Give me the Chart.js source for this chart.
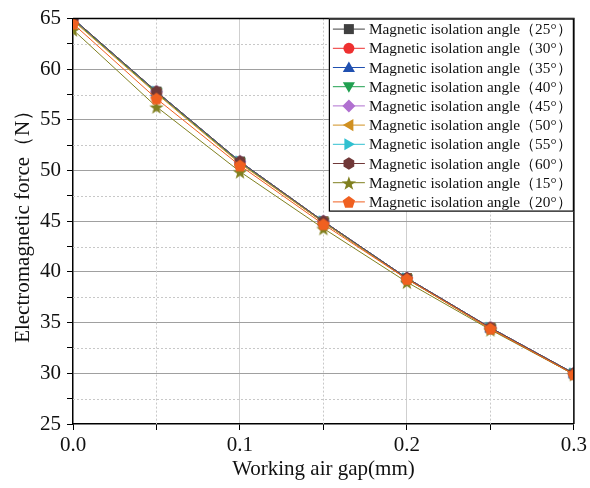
<!DOCTYPE html>
<html>
<head>
<meta charset="utf-8">
<script src="https://cdn.jsdelivr.net/npm/chart.js@4/dist/chart.umd.min.js"></script>
<style>
  html, body { margin: 0; padding: 0; background: #fff; }
  #wrap { width: 590px; height: 488px; }
</style>
</head>
<body>
<div id="wrap"><canvas id="forceChart" width="590" height="488"></canvas></div>
<script>
const airGaps = [0, 0.05, 0.1, 0.15, 0.2, 0.25, 0.3];

const angleLabels = [
  "Magnetic isolation angle（25°）",
  "Magnetic isolation angle（30°）",
  "Magnetic isolation angle（35°）",
  "Magnetic isolation angle（40°）",
  "Magnetic isolation angle（45°）",
  "Magnetic isolation angle（50°）",
  "Magnetic isolation angle（55°）",
  "Magnetic isolation angle（60°）",
  "Magnetic isolation angle（15°）",
  "Magnetic isolation angle（20°）"
];

const force25 = [65.0, 57.8, 50.9, 45.0, 39.4, 34.5, 30.0];
const force30 = [64.9, 57.7, 50.8, 44.9, 39.4, 34.5, 30.0];
const force35 = [65.0, 57.8, 50.9, 45.0, 39.4, 34.5, 30.0];
const force40 = [64.9, 57.7, 50.8, 44.9, 39.3, 34.4, 29.9];
const force45 = [65.0, 57.8, 50.9, 45.0, 39.4, 34.5, 30.0];
const force50 = [64.8, 57.6, 50.7, 44.9, 39.3, 34.4, 29.9];
const force55 = [65.0, 57.8, 50.9, 45.0, 39.4, 34.5, 30.0];
const force60 = [65.0, 57.8, 50.9, 45.0, 39.4, 34.5, 30.0];
const force15 = [63.9, 56.3, 49.9, 44.3, 39.0, 34.3, 29.9];
const force20 = [64.5, 57.1, 50.5, 44.7, 39.3, 34.4, 29.9];

const allForces = [force25, force30, force35, force40, force45, force50, force55, force60, force15, force20];

const seriesColors = ["#404040", "#ee3030", "#2050b0", "#20a050", "#b070d0",
                      "#d09020", "#30c0d0", "#703838", "#808020", "#f06020"];
const markerShapes = ["square", "circle", "up", "down", "diamond",
                      "left", "right", "hexagon", "star", "pentagon"];

const SERIF = "'Liberation Serif', 'Times New Roman', serif";

function polygon(ctx, cx, cy, r, n, startDeg) {
  ctx.beginPath();
  for (let i = 0; i < n; i++) {
    const a = (startDeg + i * 360 / n) * Math.PI / 180;
    const px = cx + r * Math.cos(a), py = cy + r * Math.sin(a);
    if (i === 0) ctx.moveTo(px, py); else ctx.lineTo(px, py);
  }
  ctx.closePath();
}

function drawShape(ctx, shape, cx, cy, color) {
  ctx.fillStyle = color;
  if (shape === "square") {
    ctx.beginPath(); ctx.rect(cx - 5, cy - 5, 10, 10);
  } else if (shape === "circle") {
    ctx.beginPath(); ctx.arc(cx, cy, 5.5, 0, Math.PI * 2);
  } else if (shape === "up") {
    polygon(ctx, cx, cy + 1, 7, 3, -90);
  } else if (shape === "down") {
    polygon(ctx, cx, cy - 1, 7, 3, 90);
  } else if (shape === "left") {
    polygon(ctx, cx + 1, cy, 7, 3, 180);
  } else if (shape === "right") {
    polygon(ctx, cx - 1, cy, 7, 3, 0);
  } else if (shape === "diamond") {
    polygon(ctx, cx, cy, 6.5, 4, -90);
  } else if (shape === "hexagon") {
    polygon(ctx, cx, cy, 6.2, 6, -90);
  } else if (shape === "pentagon") {
    polygon(ctx, cx, cy + 0.5, 6.5, 5, -90);
  } else if (shape === "star") {
    ctx.beginPath();
    for (let i = 0; i < 10; i++) {
      const r = i % 2 === 0 ? 7.5 : 3;
      const a = (-90 + i * 36) * Math.PI / 180;
      const px = cx + r * Math.cos(a), py = cy + 1 + r * Math.sin(a);
      if (i === 0) ctx.moveTo(px, py); else ctx.lineTo(px, py);
    }
    ctx.closePath();
  }
  ctx.fill();
}

function makeMarker(shape, color) {
  const c = document.createElement("canvas");
  c.width = 16; c.height = 16;
  drawShape(c.getContext("2d"), shape, 8, 8, color);
  return c;
}

const markerImages = markerShapes.map((s, i) => makeMarker(s, seriesColors[i]));

const datasets = allForces.map((vals, i) => ({
  label: angleLabels[i],
  data: airGaps.map((g, j) => ({ x: g, y: vals[j] })),
  borderColor: seriesColors[i],
  backgroundColor: seriesColors[i],
  borderWidth: 1,
  pointStyle: markerImages[i],
  pointRadius: 6,
  tension: 0,
  order: allForces.length - i
}));

// dotted minor grid + top/right frame + legend
const framePlugin = {
  id: "frame",
  beforeDatasetsDraw(chart) {
    const { ctx, chartArea: a, scales: { x, y } } = chart;
    ctx.save();
    ctx.strokeStyle = "#c8c8c8";
    ctx.lineWidth = 1;
    ctx.setLineDash([2, 2]);
    [27.5, 32.5, 37.5, 42.5, 47.5, 52.5, 57.5, 62.5].forEach(v => {
      const py = Math.round(y.getPixelForValue(v)) + 0.5;
      ctx.beginPath(); ctx.moveTo(a.left, py); ctx.lineTo(a.right, py); ctx.stroke();
    });
    [0.05, 0.15, 0.25].forEach(v => {
      const px = Math.round(x.getPixelForValue(v)) + 0.5;
      ctx.beginPath(); ctx.moveTo(px, a.top); ctx.lineTo(px, a.bottom); ctx.stroke();
    });
    ctx.restore();
  },
  afterDraw(chart) {
    const { ctx, chartArea: a } = chart;
    ctx.save();
    ctx.strokeStyle = "#000";
    ctx.lineWidth = 1.5;
    ctx.beginPath();
    ctx.moveTo(a.left, a.top); ctx.lineTo(a.right, a.top); ctx.lineTo(a.right, a.bottom);
    ctx.stroke();

    const w = 245, h = 193;
    const bx = a.right - w, by = a.top;
    ctx.fillStyle = "#fff";
    ctx.fillRect(bx, by, w, h);
    ctx.lineWidth = 1.2;
    ctx.strokeRect(bx + 0.5, by + 0.5, w - 1, h - 1);
    ctx.font = "15.3px " + SERIF;
    ctx.textBaseline = "middle";
    ctx.textAlign = "left";
    chart.data.datasets.forEach((ds, i) => {
      const cy = by + 10.5 + i * 19.2;
      ctx.strokeStyle = ds.borderColor;
      ctx.lineWidth = 1;
      ctx.beginPath(); ctx.moveTo(bx + 4, cy); ctx.lineTo(bx + 36, cy); ctx.stroke();
      drawShape(ctx, markerShapes[i], bx + 20, cy, seriesColors[i]);
      ctx.fillStyle = "#111";
      ctx.fillText(ds.label, bx + 40, cy + 1);
    });
    ctx.restore();
  }
};

new Chart(document.getElementById("forceChart"), {
  type: "line",
  data: { datasets },
  plugins: [framePlugin],
  options: {
    responsive: false,
    animation: false,
    layout: { padding: { top: 17, right: 14, left: 7, bottom: 2 } },
    plugins: { legend: { display: false }, tooltip: { enabled: false } },
    scales: {
      x: {
        type: "linear",
        min: 0,
        max: 0.3,
        afterFit: (s) => { s.height = 62; },
        border: { color: "#000", width: 1.5 },
        grid: {
          color: (c) => (c.index % 2 === 0 && c.index > 0 && c.index < 6) ? "#cfcfcf" : "rgba(0,0,0,0)",
          tickColor: "#000",
          tickLength: 6
        },
        ticks: {
          stepSize: 0.05,
          color: "#111",
          padding: 3,
          maxRotation: 0,
          autoSkip: false,
          font: { family: SERIF, size: 21 },
          callback: (v, i) => (i % 2 === 0 ? Number(v).toFixed(1) : "")
        },
        title: {
          display: true,
          text: "Working air gap(mm)",
          color: "#111",
          font: { family: SERIF, size: 21 }
        }
      },
      y: {
        min: 25,
        max: 65,
        afterFit: (s) => { s.width = 66; },
        border: { color: "#000", width: 1.5 },
        grid: {
          color: (c) => (c.index % 2 === 0 && c.index > 0 && c.index < 16) ? "#a0a0a0" : "rgba(0,0,0,0)",
          tickColor: "#000",
          tickLength: 6
        },
        ticks: {
          stepSize: 2.5,
          color: "#111",
          padding: 6,
          autoSkip: false,
          font: { family: SERIF, size: 21 },
          callback: (v, i) => (i % 2 === 0 ? String(v) : "")
        },
        title: {
          display: true,
          text: "Electromagnetic force（N）",
          color: "#111",
          font: { family: SERIF, size: 21 }
        }
      }
    }
  }
});
</script>
</body>
</html>
